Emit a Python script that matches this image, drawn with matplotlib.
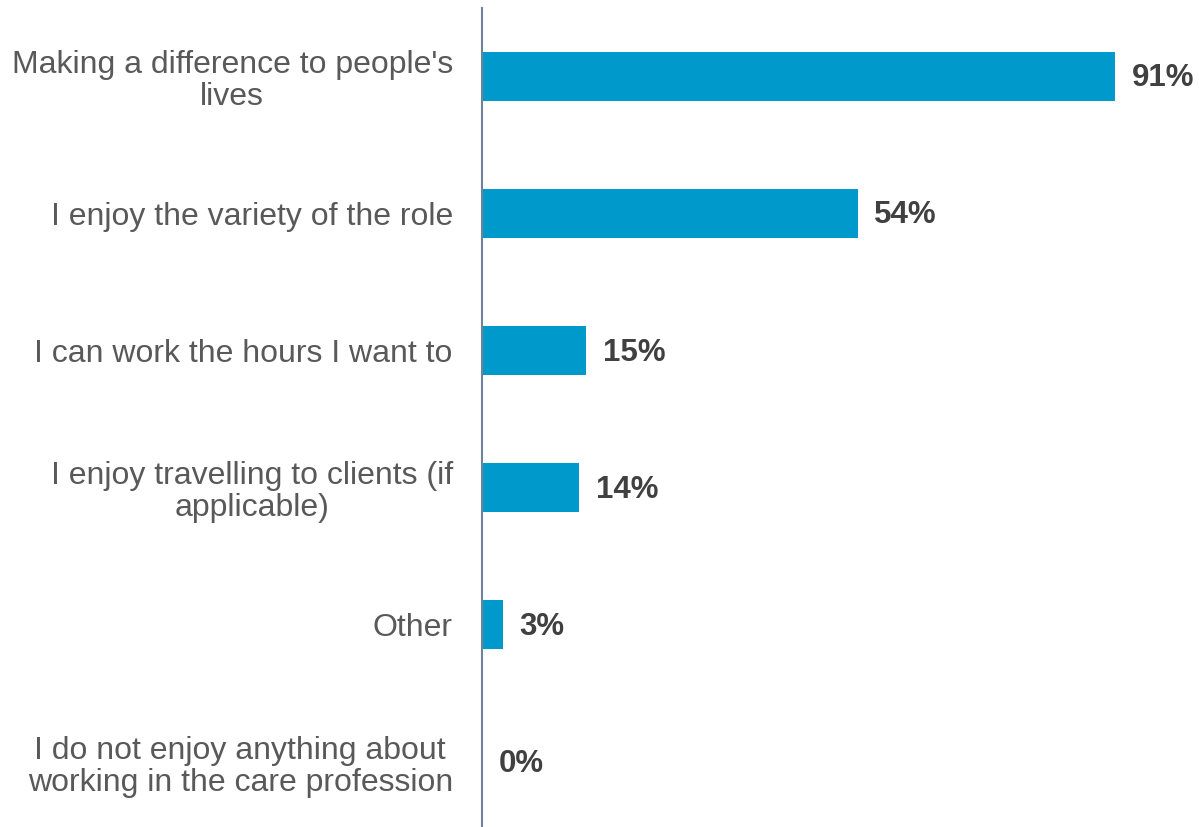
import matplotlib
matplotlib.use("Agg")
import matplotlib.pyplot as plt

categories = [
    "Making a difference to people's\nlives",
    "I enjoy the variety of the role",
    "I can work the hours I want to",
    "I enjoy travelling to clients (if\napplicable)",
    "Other",
    "I do not enjoy anything about\nworking in the care profession",
]
values = [91, 54, 15, 14, 3, 0]

plt.rcParams["font.family"] = ["Liberation Sans", "DejaVu Sans"]

W, H = 1199, 827
fig = plt.figure(figsize=(W / 100, H / 100), dpi=100)
ax = fig.add_axes([482 / W, -3.6 / H, 695.6 / W, 823 / H])

ypos = list(range(len(categories)))
ax.barh(ypos, values, height=0.357, color="#0099CC")
ax.set_xlim(0, 100)
ax.set_ylim(len(categories) - 0.5, -0.5)

for y, v in zip(ypos, values):
    ax.annotate(f"{v}%", xy=(v, y), xytext=(12, -1.5), textcoords="offset points",
                ha="left", va="center", fontsize=22.5, fontweight="bold",
                color="#404040")

ax.set_yticks(ypos)
ax.set_yticklabels(categories, fontsize=23, color="#595959", linespacing=1.1)
for lab in ax.get_yticklabels():
    lab.set_multialignment("center")
ax.tick_params(axis="y", length=0, pad=21)

ax.set_xticks([])
for side in ("top", "right", "bottom"):
    ax.spines[side].set_visible(False)
ax.spines["left"].set_color("#6E8496")
ax.spines["left"].set_linewidth(1.5)
ax.spines["left"].set_bounds(-0.5, len(categories) - 0.5)

fig.savefig("out.png", dpi=100)
